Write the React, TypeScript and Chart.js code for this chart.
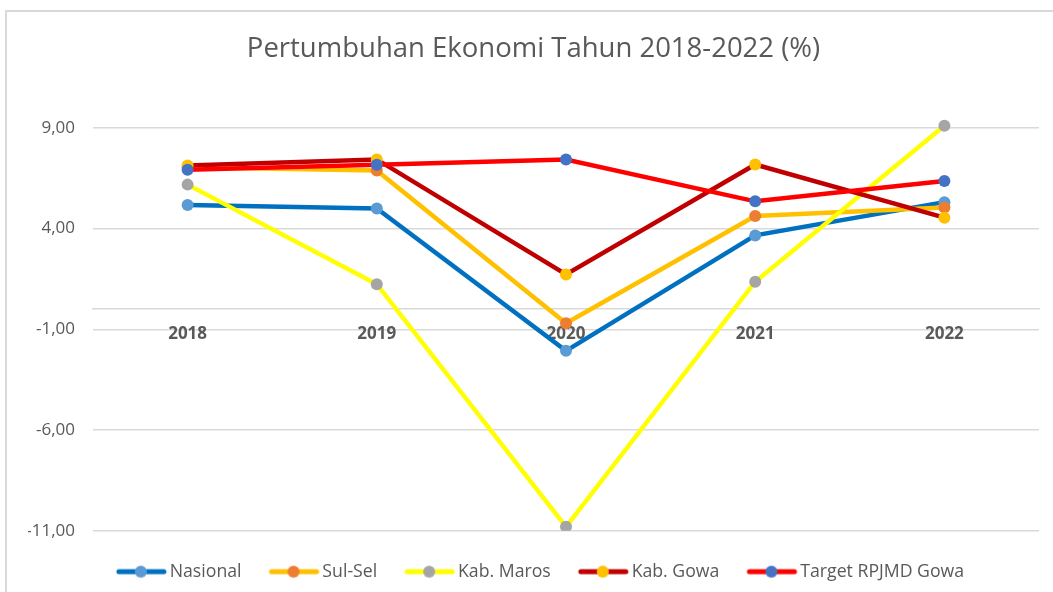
import React, { useEffect, useRef } from 'react';
import { Chart, registerables } from 'chart.js';

Chart.register(...registerables);

const years = ['2018', '2019', '2020', '2021', '2022'];
const nasional = [5.17, 5.0, -2.07, 3.66, 5.31];
const sulSel = [7.04, 6.88, -0.7, 4.62, 5.05];
const kabMaros = [6.18, 1.24, -10.8, 1.36, 9.1];
const kabGowa = [7.13, 7.43, 1.72, 7.18, 4.54];
const targetRpjmd = [6.92, 7.17, 7.43, 5.35, 6.36];
const seriesNames = ['Nasional', 'Sul-Sel', 'Kab. Maros', 'Kab. Gowa', 'Target RPJMD Gowa'];
const lineColors = ['#0070C0', '#FFC000', '#FFFF00', '#C00000', '#FF0000'];
const markerColors = ['#5B9BD5', '#ED7D31', '#A5A5A5', '#FFC000', '#4472C4'];
const yTickValues = [-11, -6, -1, 4, 9];
const titleText = 'Pertumbuhan Ekonomi Tahun 2018-2022 (%)';

const FONT = "'Open Sans', sans-serif";
const TEXT = '#595959';
const GRID = '#d9d9d9';

function makeLegendIcon(lineColor: string, markerColor: string) {
  const c = document.createElement('canvas');
  c.width = 56;
  c.height = 14;
  const ctx = c.getContext('2d')!;
  ctx.strokeStyle = lineColor;
  ctx.lineWidth = 5;
  ctx.lineCap = 'round';
  ctx.beginPath();
  ctx.moveTo(6, 7);
  ctx.lineTo(51, 7);
  ctx.stroke();
  ctx.fillStyle = markerColor;
  ctx.beginPath();
  ctx.arc(28, 7, 6, 0, Math.PI * 2);
  ctx.fill();
  return c;
}

const legendShift = {
  id: 'legendShift',
  afterLayout(chart: any) {
    if (chart.legend) {
      chart.legend.left += 9;
      chart.legend.right += 9;
    }
  },
};

export default function App() {
  const ref = useRef<HTMLCanvasElement | null>(null);

  useEffect(() => {
    document.body.style.margin = '0';
    document.body.style.overflow = 'hidden';
    const allSeries = [nasional, sulSel, kabMaros, kabGowa, targetRpjmd];
    const icons = seriesNames.map((_, i) => makeLegendIcon(lineColors[i], markerColors[i]));
    const chart = new Chart(ref.current!, {
      type: 'line',
      data: {
        labels: years,
        datasets: allSeries.map((d, i) => ({
          label: seriesNames[i],
          data: d,
          borderColor: lineColors[i],
          backgroundColor: markerColors[i],
          borderWidth: 4.5,
          pointRadius: 6,
          pointBackgroundColor: markerColors[i],
          pointBorderColor: markerColors[i],
          pointBorderWidth: 0,
          tension: 0,
          fill: false,
          order: allSeries.length - i,
        })),
      },
      plugins: [legendShift],
      options: {
        animation: false,
        responsive: false,
        events: [],
        layout: { padding: { left: 28, right: 14, top: 0, bottom: 1.5 } },
        plugins: {
          tooltip: { enabled: false },
          title: {
            display: true,
            text: titleText,
            color: TEXT,
            font: { family: FONT, size: 27.5, weight: 'normal' },
            padding: { top: 32.5, bottom: 22 },
          },
          legend: {
            display: true,
            position: 'bottom',
            labels: {
              usePointStyle: true,
              pointStyleWidth: 40,
              padding: 32,
              color: TEXT,
              font: { family: FONT, size: 17.7 },
              generateLabels: () =>
                seriesNames.map((name, i) => ({
                  text: name,
                  datasetIndex: i,
                  pointStyle: icons[i],
                  fillStyle: markerColors[i],
                  strokeStyle: lineColors[i],
                  lineWidth: 0,
                  hidden: false,
                  fontColor: TEXT,
                })),
            },
          },
        },
        scales: {
          x: {
            type: 'category',
            offset: true,
            position: { y: 0 } as any,
            grid: { drawOnChartArea: false, drawTicks: false },
            border: { display: true, color: GRID, width: 1.5 },
            ticks: {
              color: TEXT,
              padding: 15,
              font: { family: FONT, size: 17, weight: 'bold' },
            },
          },
          y: {
            min: -11,
            max: 11,
            afterBuildTicks: (scale: any) => {
              scale.ticks = yTickValues.map((v) => ({ value: v }));
            },
            afterFit: (scale: any) => {
              scale.width = 65;
            },
            grid: { color: GRID, lineWidth: 1.5, drawTicks: false },
            border: { display: false },
            ticks: {
              color: TEXT,
              padding: 18,
              font: { family: FONT, size: 17 },
              callback: (v: any) => Number(v).toFixed(2).replace('.', ','),
            },
          },
        },
      },
    });
    return () => chart.destroy();
  }, []);

  return (
    <div style={{ position: 'absolute', left: 0, top: 0, width: 1053, height: 592, background: '#fff', overflow: 'hidden' }}>
      <div
        style={{
          position: 'absolute',
          left: 5,
          top: 10,
          width: 1048,
          height: 582,
          borderLeft: `2px solid ${GRID}`,
          borderTop: `2px solid ${GRID}`,
          boxSizing: 'border-box',
        }}
      />
      <canvas ref={ref} width={1053} height={592} style={{ position: 'absolute', left: 0, top: 0, display: 'block' }} />
    </div>
  );
}
